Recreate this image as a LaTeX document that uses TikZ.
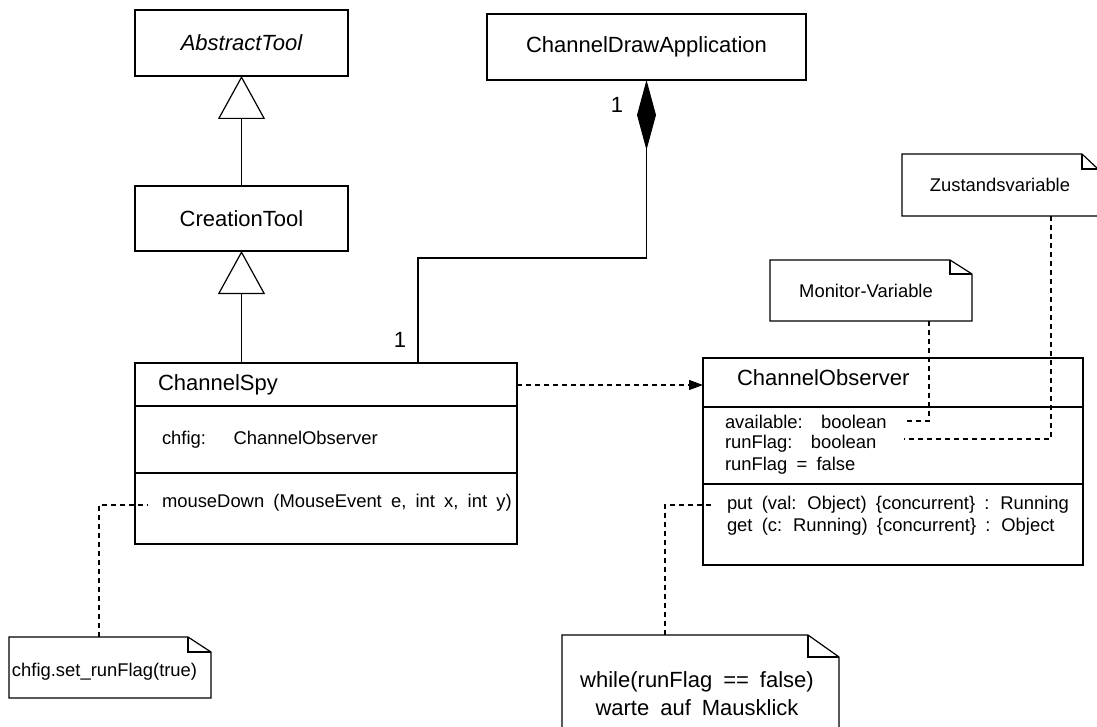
\documentclass[tikz,border=0pt]{standalone}
\usepackage{fontspec}
\setmainfont{Liberation Sans}[WordSpace=1.8]
\usetikzlibrary{arrows.meta,calc}

% note outline with a folded corner: node name, fold width, fold height
\newcommand\umlnote[3]{%
  \draw (#1.north west) -- ([xshift=-#2]#1.north east)
        -- ([yshift=-#3]#1.north east) -- (#1.south east)
        -- (#1.south west) -- cycle;
  \draw ([xshift=-#2]#1.north east) |- ([yshift=-#3]#1.north east);}

\begin{document}
\begin{tikzpicture}[x=1pt,y=-1pt,line width=1.2pt,
  every node/.style={inner sep=0pt,outer sep=0pt},
  classbox/.style={draw,anchor=north west},
  notenode/.style={anchor=north west},
  big/.style={font=\fontsize{22}{26}\selectfont},
  small/.style={font=\fontsize{18.4}{22}\selectfont},
  member/.style={small,anchor=west},
  gen/.style={-{Triangle[open,length=43pt,width=47pt]}},
  comp/.style={-{Diamond[length=70pt,width=19pt]}},
  dep/.style={dash pattern=on 5pt off 4pt,-{Triangle[length=14pt,width=10pt]}},
  notelink/.style={dash pattern=on 5pt off 4pt},
]
\fill[white] (0,0) rectangle (1097,727);
\useasboundingbox (0,0) rectangle (1097,727);

% classes
\node[classbox,big,minimum width=213pt,minimum height=66pt] (abs) at (135,10) {\itshape AbstractTool};
\node[classbox,big,minimum width=213pt,minimum height=65pt] (ct) at (135,186) {CreationTool};
\node[classbox,big,minimum width=319pt,minimum height=66pt] (cda) at (487,14) {ChannelDrawApplication};

% ChannelSpy with its compartments
\node[classbox,minimum width=382pt,minimum height=181pt] (spy) at (135,363) {};
\draw ([yshift=-43pt]spy.north west) -- ([yshift=-43pt]spy.north east);
\draw ([yshift=-110pt]spy.north west) -- ([yshift=-110pt]spy.north east);
\node[big,anchor=west] (spyname) at ($(spy.north west)+(23,22)$) {ChannelSpy};
\node[member] (spyattr) at ($(spy.north west)+(27,77)$) {chfig:~~~ChannelObserver};
\node[member] (spyop) at ($(spy.north west)+(27,140)$) {mouseDown (MouseEvent e, int x, int y)};

% ChannelObserver with its compartments
\node[classbox,minimum width=380pt,minimum height=207pt] (obs) at (703,358) {};
\draw ([yshift=-49pt]obs.north west) -- ([yshift=-49pt]obs.north east);
\draw ([yshift=-126pt]obs.north west) -- ([yshift=-126pt]obs.north east);
\node[big,anchor=west] (obsname) at ($(obs.north west)+(34,20)$) {ChannelObserver};
\node[member] (obsa1) at ($(obs.north west)+(22,64)$) {available:~~boolean};
\node[member] (obsa2) at ($(obs.north west)+(22,86)$) {runFlag:~~boolean};
\node[member] (obsa3) at ($(obs.north west)+(22,108)$) {runFlag = false};
\node[member] (obsm1) at ($(obs.north west)+(24,147)$) {put (val: Object) \{concurrent\} : Running};
\node[member] (obsm2) at ($(obs.north west)+(24,169)$) {get (c: Running) \{concurrent\} : Object};

% notes
\node[notenode,small,minimum width=196pt,minimum height=62pt] (zus) at (902,154) {Zustandsvariable};
\umlnote{zus}{16pt}{15pt}
\node[notenode,minimum width=202pt,minimum height=61pt] (mon) at (770,260) {};
\umlnote{mon}{22pt}{14pt}
\node[small] (montext) at (866,291) {Monitor-Variable};
\node[notenode,minimum width=202pt,minimum height=61pt] (chf) at (9,637) {};
\umlnote{chf}{23pt}{15pt}
\node[small,anchor=west] (chftext) at (12,672) {chfig.set\_runFlag(true)};
\node[notenode,minimum width=277pt,minimum height=100pt] (wh) at (562,635) {};
\umlnote{wh}{31pt}{22pt}
\node[big,align=center,font=\fontsize{22}{28}\selectfont] (whtext) at (697,694) {while(runFlag == false)\\warte auf Mausklick};

% generalizations
\draw[gen] (ct.north) -- (abs.south);
\draw[gen] (ct.south |- spy.north) -- (ct.south);

% composition
\coordinate (bend) at (646.5,258);
\draw[comp] ($(spy.north west)+(283,0)$) |- (bend) -- (cda.south);
\node[big] (mult1) at (617,105) {1};
\node[big] (mult2) at (400,340) {1};

% dependency
\draw[dep] ($(spy.north east)+(0,22)$) -- ($(obs.west |- spy.north east)+(0,22)$);

% note attachments
\coordinate (monEnd) at (907,421);
\coordinate (zusEnd) at (904,439);
\coordinate (chfEnd) at (148,505);
\coordinate (whEnd) at (713,505);
\draw[notelink] ($(mon.south west)+(159,0)$) |- (monEnd);
\draw[notelink] ($(zus.south west)+(149,0)$) |- (zusEnd);
\draw[notelink] ($(chf.north west)+(90,0)$) |- (chfEnd);
\draw[notelink] ($(wh.north west)+(103,0)$) |- (whEnd);
\end{tikzpicture}
\end{document}
